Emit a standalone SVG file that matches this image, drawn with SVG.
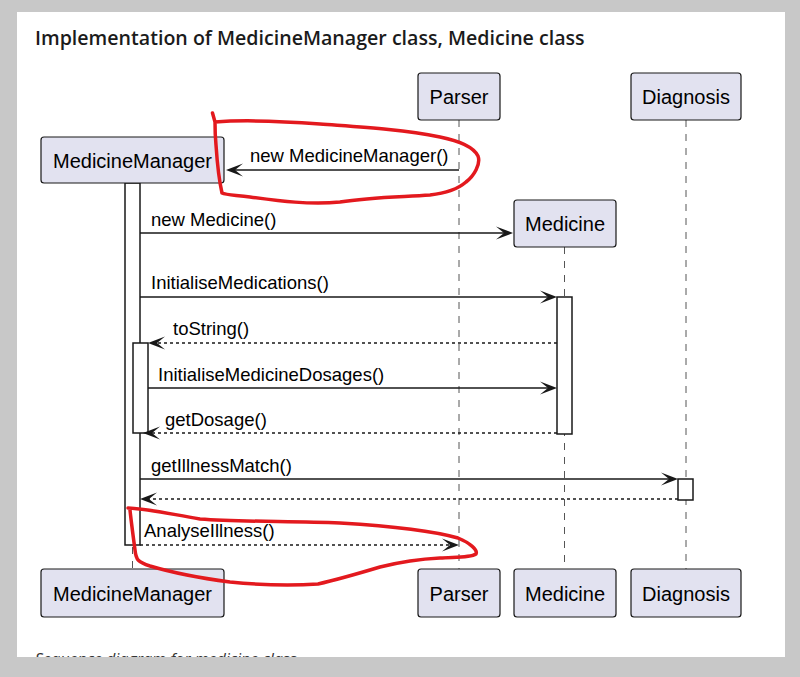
<svg xmlns="http://www.w3.org/2000/svg" width="800" height="677" viewBox="0 0 800 677">
<defs>
<style>
.pbox{fill:#E2E2F0;stroke:#181818;stroke-width:1.2}
.ptxt{font-family:"Liberation Sans",Arial,sans-serif;font-size:20px;fill:#000;text-anchor:middle}
.mtxt{font-family:"Liberation Sans",Arial,sans-serif;font-size:18.5px;fill:#000}
.life{stroke:#555;stroke-width:1;stroke-dasharray:7,7;fill:none}
.act{fill:#fff;stroke:#181818;stroke-width:1.5}
.msg{stroke:#181818;stroke-width:1.5;fill:none}
.ret{stroke:#181818;stroke-width:1.5;fill:none;stroke-dasharray:3,3}
.ah{fill:#181818}
.red{fill:none;stroke:#E3191E;stroke-width:3.5;stroke-linecap:round;stroke-linejoin:round}
</style>
</defs>
<rect x="0" y="0" width="800" height="677" fill="#C8C8C8"/>
<rect x="17" y="12" width="768" height="645" fill="#fff"/>
<text x="35" y="45" font-family="'Open Sans','Noto Sans',sans-serif" font-weight="600" font-size="19.6" fill="#1b1b1b">Implementation of MedicineManager class, Medicine class</text>
<text x="35" y="664.5" font-family="'Open Sans','Noto Sans',sans-serif" font-style="italic" font-size="16" fill="#333">Sequence diagram for medicine class</text>
<rect x="0" y="657" width="800" height="20" fill="#C8C8C8"/>

<g id="lifelines">
<line class="life" x1="132.5" y1="183" x2="132.5" y2="569"/>
<line class="life" x1="459" y1="120" x2="459" y2="569"/>
<line class="life" x1="564.5" y1="247" x2="564.5" y2="569"/>
<line class="life" x1="686" y1="120" x2="686" y2="569"/>
</g>

<g id="activations">
<rect class="act" x="125" y="183" width="15" height="362"/>
<rect class="act" x="133" y="343" width="15" height="90"/>
<rect class="act" x="557" y="297" width="15" height="137"/>
<rect class="act" x="678" y="479" width="15" height="21"/>
</g>

<g id="MedicineManager">
<rect class="pbox" x="41" y="137" width="183" height="46" rx="3"/>
<text class="ptxt" x="132.5" y="167.5">MedicineManager</text>
<rect class="pbox" x="41" y="569" width="183" height="48" rx="3"/>
<text class="ptxt" x="132.5" y="601">MedicineManager</text>
</g>
<g id="Parser">
<rect class="pbox" x="418" y="73" width="82" height="47" rx="3"/>
<text class="ptxt" x="459" y="104">Parser</text>
<rect class="pbox" x="418" y="569" width="82" height="48" rx="3"/>
<text class="ptxt" x="459" y="601">Parser</text>
</g>
<g id="Medicine">
<rect class="pbox" x="514" y="200" width="102" height="47" rx="3"/>
<text class="ptxt" x="565" y="231">Medicine</text>
<rect class="pbox" x="514" y="569" width="102" height="48" rx="3"/>
<text class="ptxt" x="565" y="601">Medicine</text>
</g>
<g id="Diagnosis">
<rect class="pbox" x="631" y="73" width="110" height="47" rx="3"/>
<text class="ptxt" x="686" y="104">Diagnosis</text>
<rect class="pbox" x="631" y="569" width="110" height="48" rx="3"/>
<text class="ptxt" x="686" y="601">Diagnosis</text>
</g>

<g id="connectors">
<line class="msg" x1="459" y1="170" x2="232" y2="170"/>
<path class="ah" d="M226,170 L243,163.5 L235,170 L243,176.5 Z"/>
<text class="mtxt" x="250" y="162">new MedicineManager()</text>

<line class="msg" x1="140" y1="233" x2="507" y2="233"/>
<path class="ah" d="M513,233 L496,226.5 L504,233 L496,239.5 Z"/>
<text class="mtxt" x="151" y="226">new Medicine()</text>

<line class="msg" x1="140" y1="297" x2="551" y2="297"/>
<path class="ah" d="M557,297 L540,290.5 L548,297 L540,303.5 Z"/>
<text class="mtxt" x="151" y="289">InitialiseMedications()</text>

<line class="ret" x1="557" y1="343" x2="154" y2="343"/>
<path class="ah" d="M148,343 L165,336.5 L157,343 L165,349.5 Z"/>
<text class="mtxt" x="173" y="335">toString()</text>

<line class="msg" x1="148" y1="388" x2="551" y2="388"/>
<path class="ah" d="M557,388 L540,381.5 L548,388 L540,394.5 Z"/>
<text class="mtxt" x="158" y="381">InitialiseMedicineDosages()</text>

<line class="ret" x1="557" y1="433" x2="149" y2="433"/>
<path class="ah" d="M143,433 L160,426.5 L152,433 L160,439.5 Z"/>
<text class="mtxt" x="165" y="426">getDosage()</text>

<line class="msg" x1="140" y1="479" x2="672" y2="479"/>
<path class="ah" d="M678,479 L661,472.5 L669,479 L661,485.5 Z"/>
<text class="mtxt" x="151" y="472">getIllnessMatch()</text>

<line class="ret" x1="678" y1="499" x2="146" y2="499"/>
<path class="ah" d="M140,499 L157,492.5 L149,499 L157,505.5 Z"/>

<line class="ret" x1="140" y1="545" x2="453" y2="545"/>
<path class="ah" d="M459,545 L442,538.5 L450,545 L442,551.5 Z"/>
<text class="mtxt" x="144" y="537">AnalyseIllness()</text>
</g>

<g id="annotations">
<path class="red" d="M212.5,113 L215,122 C240,120 280,121 320,124 C360,127 400,129 440,137 C460,141 474,148 478,156 C481,164 474,176 466,182 C458,189 448,193 430,195 C400,197 370,197 340,202 C310,205 280,201 250,197 C235,195 226,195 222,193 C219,180 217,160 216,145 C215,135 215,126 215,122"/>
<path class="red" d="M128,508 C150,509 170,514 200,519 C240,522 290,521 340,523 C390,526 430,530 458,538 C470,543 478,550 476,554 C470,558 455,557 440,558 C420,559 400,562 380,567 C360,573 340,579 318,584 C290,586 260,585 230,582 C200,578 170,572 150,566 C138,562 136,560 135,550 C133,535 131,520 130,510"/>
</g>
</svg>
